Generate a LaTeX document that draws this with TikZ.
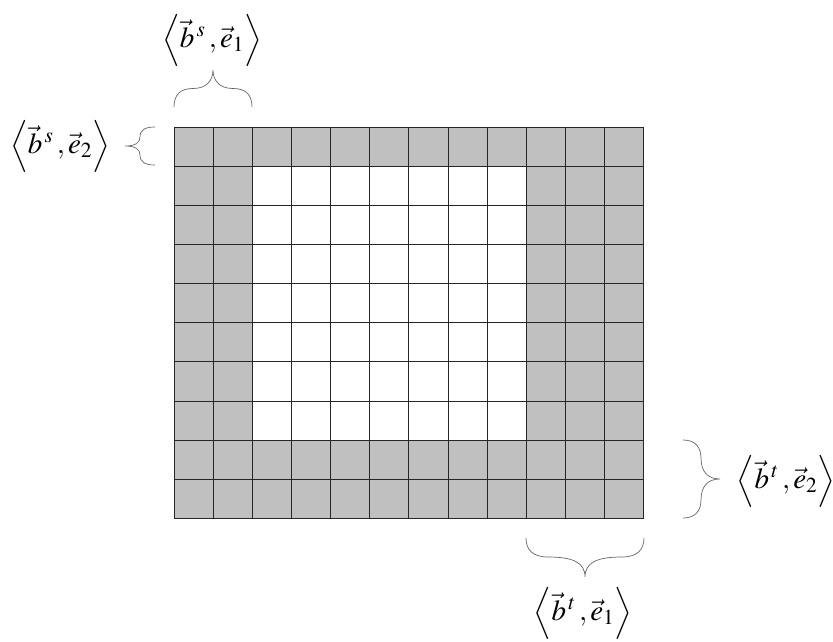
\documentclass[tikz,border=0pt]{standalone}
\usepackage{mathptmx}
\definecolor{cellgray}{RGB}{192,192,192}
\definecolor{bracegray}{RGB}{100,100,100}
\begin{document}
\begin{tikzpicture}[x=1pt,y=-1pt,
  gridline/.style={line width=0.9pt, draw=black!85},
  bracepath/.style={line width=0.7pt, draw=bracegray},
  lbl/.style={inner sep=0pt, font=\fontsize{29}{34}\selectfont}]
\useasboundingbox (0,0) rectangle (833,642);
\def\c{39.15}
% cells
\fill[cellgray] (174,127) rectangle (174+12*\c,127+10*\c);
\fill[white] (174+2*\c,127+\c) rectangle (174+9*\c,127+8*\c);
\foreach \i in {0,...,12} \draw[gridline] (174+\i*\c,127) -- (174+\i*\c,127+10*\c);
\foreach \j in {0,...,10} \draw[gridline] (174,127+\j*\c) -- (174+12*\c,127+\j*\c);
% braces
\draw[bracepath] (174,107) .. controls (174,95) and (180,88.5) .. (193,88.5)
  .. controls (207,88.5) and (213,80) .. (213,70)
  .. controls (213,80) and (219,88.5) .. (233,88.5)
  .. controls (246,88.5) and (252,95) .. (252,107);
\draw[bracepath] (155,127) .. controls (145,127) and (140,130) .. (140,137)
  .. controls (140,143) and (135,146) .. (125,146)
  .. controls (135,146) and (140,149) .. (140,155)
  .. controls (140,162) and (145,165) .. (155,165);
\draw[bracepath] (683,440) .. controls (695,440) and (701,447) .. (701,458)
  .. controls (701,472) and (708,479) .. (720,479)
  .. controls (708,479) and (701,486) .. (701,500)
  .. controls (701,511) and (695,518) .. (683,518);
\draw[bracepath] (526,538) .. controls (526,550) and (533,557) .. (548,557)
  .. controls (572,557) and (585,562) .. (585,577)
  .. controls (585,562) and (598,557) .. (622,557)
  .. controls (637,557) and (644,550) .. (644,538);
% labels
\node[lbl] (ts) at (212,40) {$\left\langle \vec{b}^{\,s}\,,\vec{e}_1\right\rangle$};
\node[lbl] (ls) at (60,146) {$\left\langle \vec{b}^{\,s}\,,\vec{e}_2\right\rangle$};
\node[lbl] (rt) at (786,481) {$\left\langle \vec{b}^{\,t}\,,\vec{e}_2\right\rangle$};
\node[lbl] (bt) at (583,613) {$\left\langle \vec{b}^{\,t}\,,\vec{e}_1\right\rangle$};
\end{tikzpicture}
\end{document}
